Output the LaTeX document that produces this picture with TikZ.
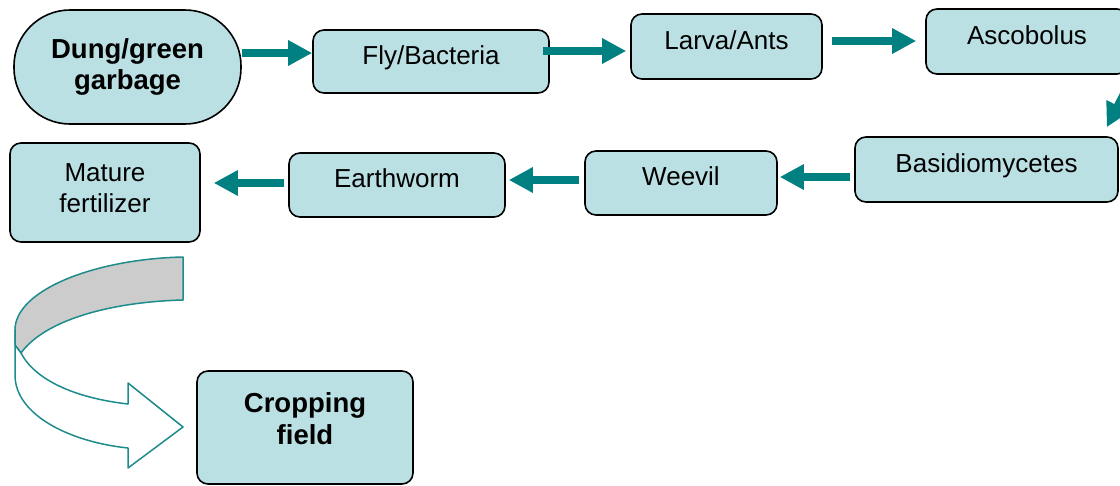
\documentclass[tikz,border=0pt]{standalone}
\usepackage{fontspec}
\setmainfont{Liberation Sans}
\usetikzlibrary{arrows.meta,calc}
\definecolor{boxfill}{RGB}{187,224,227}
\definecolor{teal1}{RGB}{0,128,128}
\definecolor{teal2}{RGB}{30,140,140}
\definecolor{band}{RGB}{204,204,204}
\tikzset{
  box/.style={draw=black, line width=1.6pt, fill=boxfill, rounded corners=11pt,
    inner sep=0pt, align=center, font=\fontsize{26}{31}\selectfont},
  oneline/.style={text height=0.75em, text depth=0.25em},
  boldbox/.style={box, font=\fontsize{27.5}{31}\selectfont\bfseries},
  flow/.style={draw=teal1, line width=8pt, -{Triangle[width=24pt,length=24pt]}},
  ribbon/.style={draw=teal2, line width=1.5pt, line join=round}
}
\begin{document}
\begin{tikzpicture}[x=1pt,y=-1pt]
\useasboundingbox (0,0) rectangle (1120,485);
% nodes
\node[boldbox, rounded corners=56pt, minimum width=227pt, minimum height=114pt] (dung) at (127.5,67) {Dung/green\\garbage};
\node[box, oneline, minimum width=236pt, minimum height=63pt] (fly) at (431,61.5) {Fly/Bacteria};
\node[box, oneline, minimum width=191pt, minimum height=65pt] (larva) at (726.5,46.5) {Larva/Ants};
\node[box, oneline, minimum width=202pt, minimum height=65pt] (asco) at (1027,41.5) {Ascobolus};
\node[box, oneline, minimum width=263pt, minimum height=65pt] (basidio) at (986.5,169.5) {Basidiomycetes};
\node[box, oneline, minimum width=192pt, minimum height=64pt] (weevil) at (681,183) {Weevil};
\node[box, oneline, minimum width=216pt, minimum height=64pt] (earth) at (397,185) {Earthworm};
\node[box, minimum width=190pt, minimum height=99pt,
  label={[font=\fontsize{26}{31}\selectfont, align=center, inner sep=0pt, yshift=4pt]center:Mature\\fertilizer}] (mature) at (105,192.5) {};
\node[boldbox, minimum width=216pt, minimum height=113pt,
  label={[font=\fontsize{27.5}{32}\selectfont\bfseries, align=center, inner sep=0pt, yshift=9pt]center:Cropping\\field}] (crop) at (305,427.5) {};
% connectors
\draw[flow] ($(dung.east)+(0,-14)$) -- ($(fly.west)+(0,-8.5)$);
\draw[flow] ($(fly.east)+(-7,-10.5)$) -- ($(larva.west)+(-4,4.5)$);
\draw[flow] ($(larva.east)+(9,-5.5)$) -- ($(asco.west)+(-9,-0.5)$);
\draw[flow] ($(asco.south east)+(3,4)$) -- ($(basidio.north east)+(-12,-9)$);
\draw[flow] ($(basidio.west)+(-4,7.5)$) -- ($(weevil.east)+(2,-6)$);
\draw[flow] ($(weevil.west)+(-5,-3)$) -- ($(earth.east)+(3,-5)$);
\draw[flow] ($(earth.west)+(-4,-2)$) -- ($(mature.east)+(13,-9.5)$);
% curved block arrow from mature fertilizer to cropping field
\path[ribbon, fill=band] (183,257) .. controls (95,259) and (15,290) .. (15,330)
  -- (15,345) -- (21,353) .. controls (45,320) and (110,302) .. (183,300) -- cycle;
\path[ribbon, fill=white] (15,330) -- (15,375) .. controls (15,415) and (70,442) .. (128,448)
  -- (128,468) -- (183,427) -- (128,383) -- (128,404)
  .. controls (75,398) and (35,380) .. (21,353) -- (15,345) -- cycle;
\end{tikzpicture}
\end{document}
